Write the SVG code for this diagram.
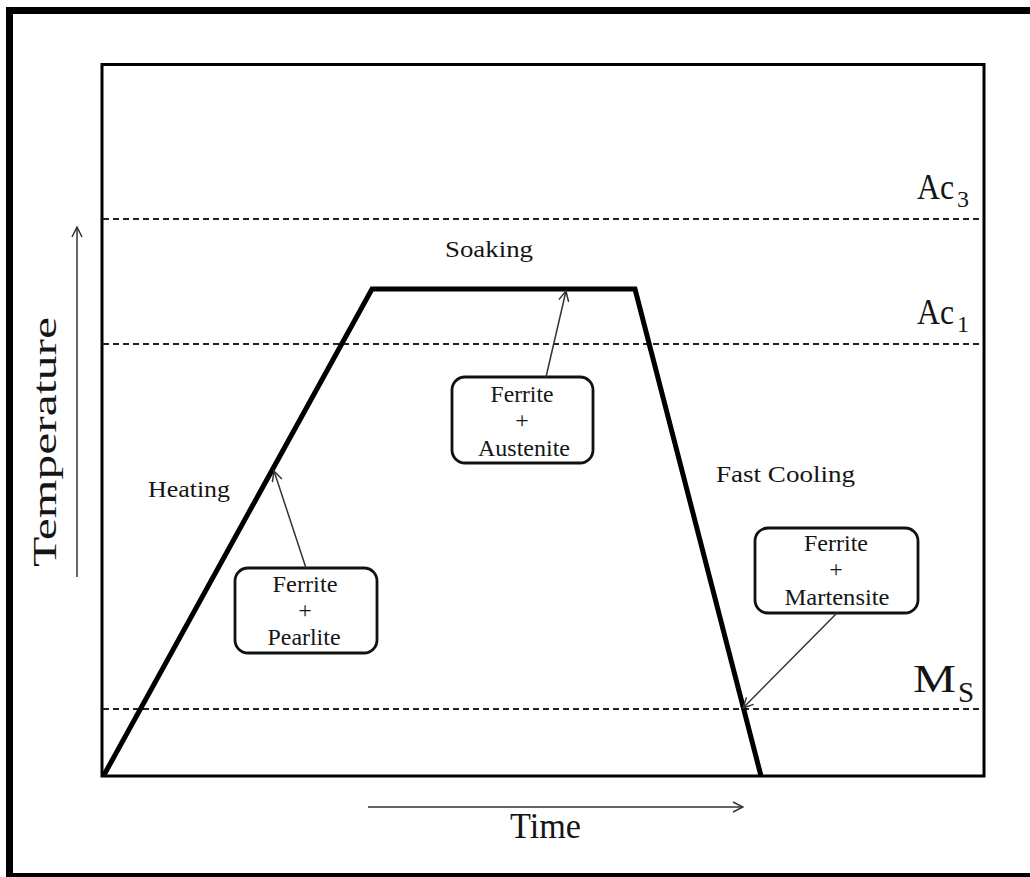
<svg xmlns="http://www.w3.org/2000/svg" width="1030" height="877" viewBox="0 0 1030 877">
<defs>
<style>
.t{font-family:"Liberation Serif","Times New Roman",serif;fill:#151515}
.dash{stroke:#222;stroke-width:1.9;stroke-dasharray:6 4;fill:none}
.box{fill:#fff;stroke:#111;stroke-width:2.8}
.conn{stroke:#333;stroke-width:1.5;fill:none}
</style>
<marker id="ah" viewBox="0 0 12 12" refX="11" refY="6" markerWidth="12" markerHeight="12" markerUnits="userSpaceOnUse" orient="auto">
<path d="M1,1 L11,6 L1,11" fill="none" stroke="#333" stroke-width="1.5"/>
</marker>
</defs>
<rect width="1030" height="877" fill="#fff"/>
<rect x="9.5" y="10.5" width="1030" height="866" fill="none" stroke="#000" stroke-width="7"/>
<g id="plot">
<rect x="102" y="64.5" width="882" height="711.5" fill="none" stroke="#000" stroke-width="3"/>
<line class="dash" x1="103" y1="219" x2="983" y2="219"/>
<line class="dash" x1="103" y1="344" x2="983" y2="344"/>
<line class="dash" x1="103" y1="709" x2="983" y2="709"/>
<polyline points="104,775 372,289 635,289 761,776" fill="none" stroke="#000" stroke-width="5" stroke-linejoin="miter"/>
</g>
<g id="labels">
<text class="t" x="917" y="199" font-size="36" textLength="37" lengthAdjust="spacingAndGlyphs">Ac</text>
<text class="t" x="957" y="207" font-size="24">3</text>
<text class="t" x="917" y="324" font-size="36" textLength="37" lengthAdjust="spacingAndGlyphs">Ac</text>
<text class="t" x="957" y="332" font-size="24">1</text>
<text class="t" x="913" y="692" font-size="40" textLength="43" lengthAdjust="spacingAndGlyphs">M</text>
<text class="t" x="958" y="702" font-size="29">S</text>
<text class="t" x="445" y="257" font-size="24" textLength="88" lengthAdjust="spacingAndGlyphs">Soaking</text>
<text class="t" x="148" y="497" font-size="24" textLength="82" lengthAdjust="spacingAndGlyphs">Heating</text>
<text class="t" x="716" y="482" font-size="24" textLength="139" lengthAdjust="spacingAndGlyphs">Fast Cooling</text>
<text class="t" x="510" y="838" font-size="36" textLength="71" lengthAdjust="spacingAndGlyphs">Time</text>
<text class="t" transform="translate(56,442) rotate(-90)" x="0" y="0" font-size="34" text-anchor="middle" textLength="250" lengthAdjust="spacingAndGlyphs">Temperature</text>
</g>
<g id="node-austenite">
<rect class="box" x="452" y="377" width="141" height="86" rx="13"/>
<text class="t" x="522" y="402" font-size="23" text-anchor="middle" textLength="63" lengthAdjust="spacingAndGlyphs">Ferrite</text>
<text class="t" x="522" y="428" font-size="24" text-anchor="middle">+</text>
<text class="t" x="524" y="456" font-size="23" text-anchor="middle" textLength="92" lengthAdjust="spacingAndGlyphs">Austenite</text>
</g>
<g id="node-pearlite">
<rect class="box" x="235" y="568" width="142" height="85" rx="13"/>
<text class="t" x="305" y="592" font-size="23" text-anchor="middle" textLength="65" lengthAdjust="spacingAndGlyphs">Ferrite</text>
<text class="t" x="305" y="618" font-size="24" text-anchor="middle">+</text>
<text class="t" x="304" y="645" font-size="23" text-anchor="middle" textLength="73" lengthAdjust="spacingAndGlyphs">Pearlite</text>
</g>
<g id="node-martensite">
<rect class="box" x="755" y="528" width="163" height="85" rx="13"/>
<text class="t" x="836" y="551" font-size="23" text-anchor="middle" textLength="64" lengthAdjust="spacingAndGlyphs">Ferrite</text>
<text class="t" x="836" y="577" font-size="24" text-anchor="middle">+</text>
<text class="t" x="837" y="605" font-size="23" text-anchor="middle" textLength="105" lengthAdjust="spacingAndGlyphs">Martensite</text>
</g>
<g id="connectors">
<line class="conn" x1="77" y1="577" x2="77" y2="227" marker-end="url(#ah)"/>
<line class="conn" x1="368" y1="807" x2="743" y2="807" marker-end="url(#ah)"/>
<line class="conn" x1="546" y1="377" x2="566" y2="291" marker-end="url(#ah)"/>
<line class="conn" x1="306" y1="568" x2="274" y2="471" marker-end="url(#ah)"/>
<line class="conn" x1="837" y1="613" x2="743" y2="708" marker-end="url(#ah)"/>
</g>
</svg>
